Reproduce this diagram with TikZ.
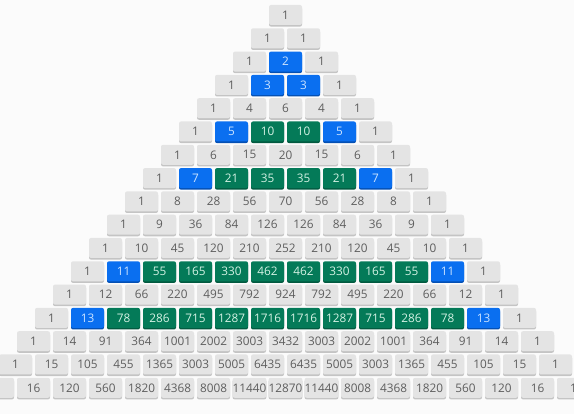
\documentclass[tikz,border=0pt]{standalone}
\usepackage{fontspec}
\setmainfont{Open Sans}
\usetikzlibrary{shadows}
\definecolor{bg}{HTML}{FBFBFB}
\definecolor{cellgray}{HTML}{E4E4E4}
\definecolor{cellshade}{HTML}{C4C4C4}
\definecolor{txtgray}{HTML}{5E5E5E}
\definecolor{cellblue}{HTML}{0A6FF0}
\definecolor{blueshade}{HTML}{0450B4}
\definecolor{txtblue}{HTML}{CDE4FF}
\definecolor{cellgreen}{HTML}{047A58}
\definecolor{greenshade}{HTML}{025A40}
\definecolor{txtgreen}{HTML}{D4F2E4}
\newcommand\primeflag[1]{\ifcase#1 0\or0\or1\or1\or0\or1\or0\or1\or0\or0\or0\or1\or0\or1\or0\or0\or0\fi}
\tikzset{
  cellbase/.style={rectangle, rounded corners=2pt, minimum width=33pt, minimum height=20pt,
    inner sep=0pt, font=\fontsize{11.8}{12}\selectfont},
  graycell/.style={cellbase, fill=cellgray, text=txtgray,
    general shadow={fill=cellshade, shadow yshift=-1.6pt, shadow xshift=0pt}},
  bluecell/.style={cellbase, fill=cellblue, text=txtblue,
    general shadow={fill=blueshade, shadow yshift=-1.6pt, shadow xshift=0pt}},
  greencell/.style={cellbase, fill=cellgreen, text=txtgreen,
    general shadow={fill=greenshade, shadow yshift=-1.6pt, shadow xshift=0pt}}
}
\begin{document}
\begin{tikzpicture}[x=1pt,y=1pt]
\useasboundingbox (0,0) rectangle (574,-414);
\fill[bg] (0,0) rectangle (574,-414);
\clip (0,0) rectangle (574,-414);
\foreach \n in {0,...,16}{
  \gdef\cval{1}
  \foreach \k in {0,...,\n}{
    \ifnum\k>0 \xdef\cval{\the\numexpr\cval*(\n-\k+1)/\k\relax}\fi
    \def\sty{graycell}
    \ifnum\primeflag{\n}=1
      \ifnum\k>0 \ifnum\k<\n \def\sty{greencell}\fi\fi
      \ifnum\k=1 \def\sty{bluecell}\fi
      \ifnum\k=\numexpr\n-1\relax \def\sty{bluecell}\fi
    \fi
    \node[\sty] (c-\n-\k) at ({285.5+(\k-\n/2)*36}, {-15-23.3*\n}) {\cval};
  }
}
\end{tikzpicture}
\end{document}
